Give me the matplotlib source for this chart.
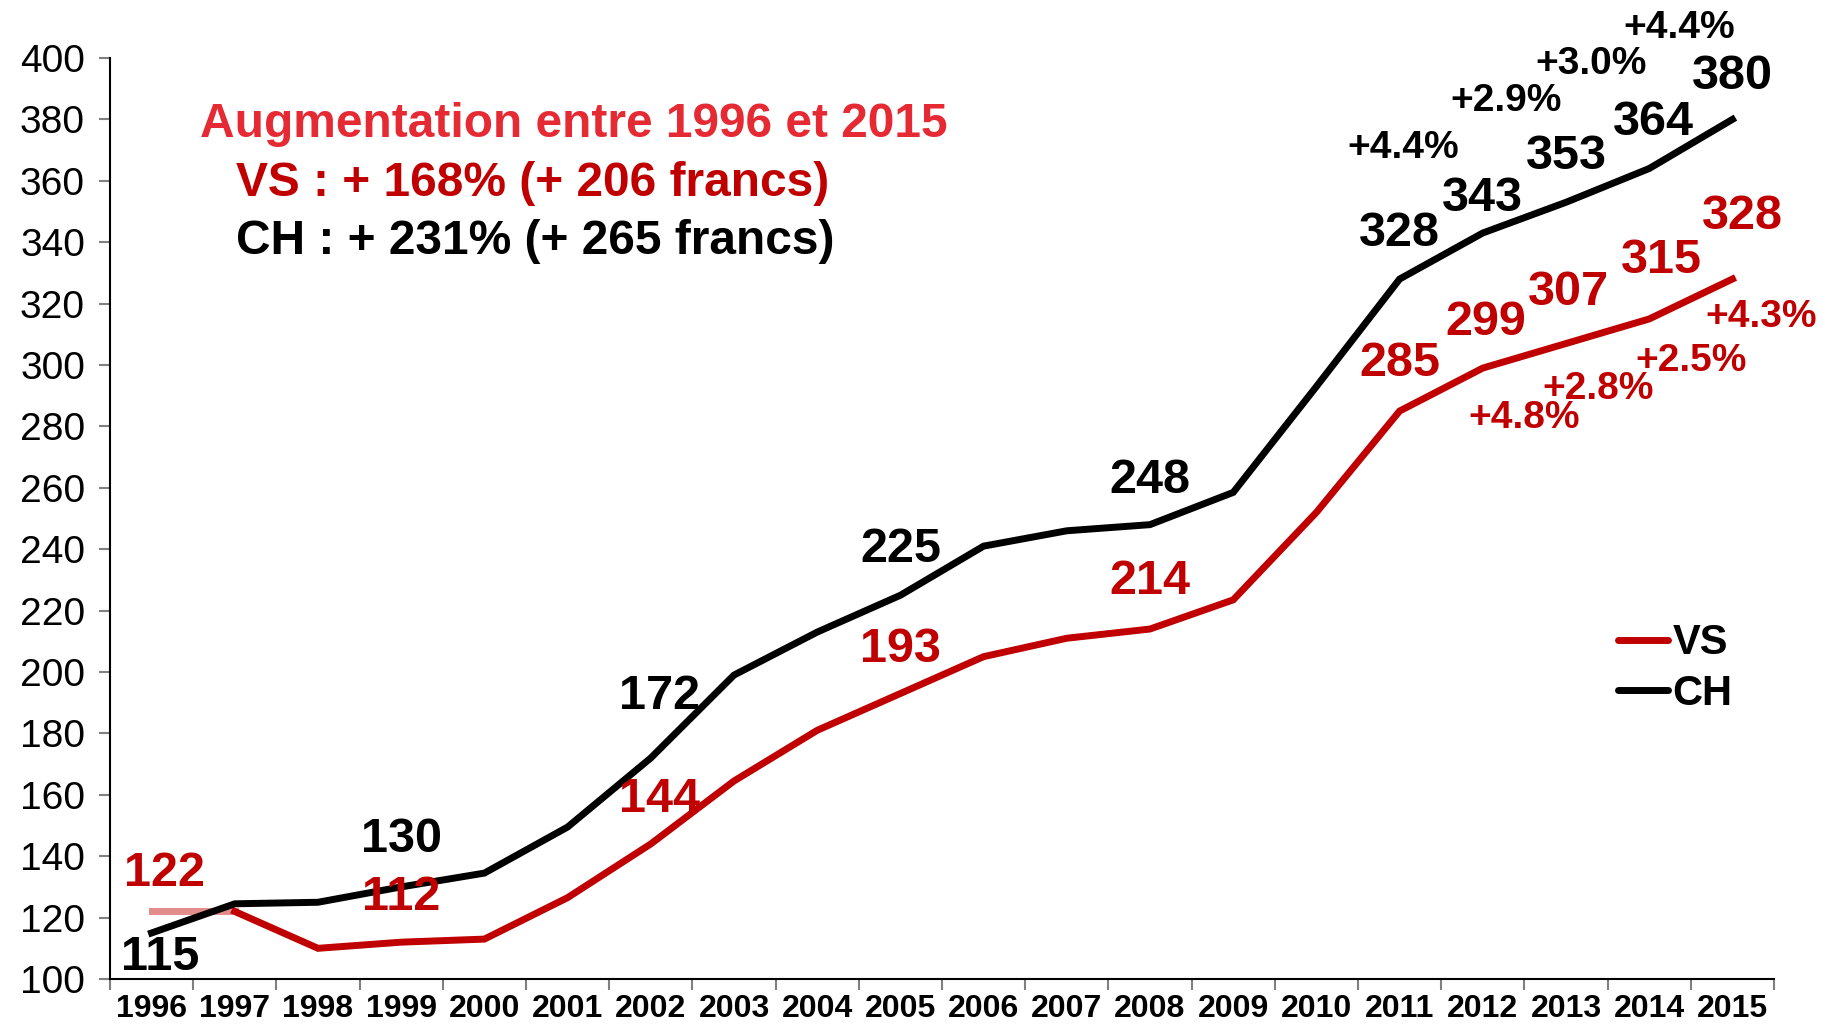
import matplotlib
matplotlib.use("Agg")
import matplotlib.pyplot as plt
from matplotlib.lines import Line2D

# data
years = [str(y) for y in range(1996, 2016)]
ch = [115, 124.5, 125, 130, 134.5, 149.5, 172, 199, 213, 225,
      241, 246, 248, 258.5, 293, 328, 343, 353, 364, 380]
vs = [122, 122, 110, 112, 113, 126.5, 144, 164.5, 181, 193,
      205, 211, 214, 223.5, 252, 285, 299, 307, 315, 328]

ch_labelled = [0, 3, 6, 9, 12, 15, 16, 17, 18, 19]
vs_labelled = [0, 3, 6, 9, 12, 15, 16, 17, 18, 19]
ch_pct = ["+4.4%", "+2.9%", "+3.0%", "+4.4%"]   # 2012..2015
vs_pct = ["+4.8%", "+2.8%", "+2.5%", "+4.3%"]
title_lines = ["Augmentation entre 1996 et 2015",
               "VS : + 168% (+ 206 francs)",
               "CH : + 231% (+ 265 francs)"]

RED = "#C00000"
LIGHT_RED = "#E52A33"
FONT = ["Liberation Sans", "DejaVu Sans"]

plt.rcParams["font.family"] = FONT

fig = plt.figure(figsize=(18.24, 10.30), dpi=100)
ax = fig.add_axes([0.0603, 0.0495, 0.9123, 0.8942])

x = list(range(len(years)))

# lines
ax.plot(x[1:], vs[1:], color=RED, lw=5, solid_joinstyle="miter", zorder=3)
ax.plot(x[:2], vs[:2], color=RED, lw=5, alpha=0.45, zorder=3)
ax.plot(x, ch, color="black", lw=5, solid_joinstyle="miter", zorder=4)

# value labels (offsets in points)
ch_off = [(6, -18), (0, 34), (6, 44), (0, 33), (0, 32), (0, 33), (0, 25), (0, 33), (3, 33), (0, 31)]
vs_off = [(9, 27), (0, 32), (6, 32), (0, 32), (0, 34), (0, 34), (2, 33), (2, 37), (9, 42), (7, 45)]
for i, off in zip(ch_labelled, ch_off):
    ax.annotate(f"{ch[i]:.0f}", (i, ch[i]), xytext=off, textcoords="offset points",
                ha="center", va="center", fontsize=35, fontweight="bold", color="black", zorder=5)
for i, off in zip(vs_labelled, vs_off):
    ax.annotate(f"{vs[i]:.0f}", (i, vs[i]), xytext=off, textcoords="offset points",
                ha="center", va="center", fontsize=35, fontweight="bold", color=RED, zorder=5)

# growth labels
ch_pct_off = [(-57, 61), (-43, 73), (-42, 75), (-38, 66)]
vs_pct_off = [(30, -36), (23, -33), (30, -30), (21, -27)]
for k, (txt, off) in enumerate(zip(ch_pct, ch_pct_off)):
    i = 16 + k
    ax.annotate(txt, (i, ch[i]), xytext=off, textcoords="offset points",
                ha="center", va="center", fontsize=28, fontweight="bold", color="black")
for k, (txt, off) in enumerate(zip(vs_pct, vs_pct_off)):
    i = 16 + k
    ax.annotate(txt, (i, vs[i]), xytext=off, textcoords="offset points",
                ha="center", va="center", fontsize=28, fontweight="bold", color=RED)

# title block
ax.text(0.054, 0.928, title_lines[0], transform=ax.transAxes, fontsize=34.5,
        fontweight="bold", color=LIGHT_RED, va="center")
ax.text(0.0757, 0.864, title_lines[1], transform=ax.transAxes, fontsize=34.5,
        fontweight="bold", color=RED, va="center")
ax.text(0.0757, 0.801, title_lines[2], transform=ax.transAxes, fontsize=34.5,
        fontweight="bold", color="black", va="center")

# axes
ax.set_xlim(-0.5, len(years) - 0.5)
ax.set_ylim(100, 400)
ax.set_yticks(range(100, 401, 20))
ax.tick_params(axis="y", labelsize=28, length=8, color="#808080", width=1.5, pad=10)
ax.set_xticks([i - 0.5 for i in range(len(years) + 1)])
ax.set_xticklabels([])
ax.set_xticks(x, minor=True)
ax.set_xticklabels(years, minor=True, fontsize=23, fontweight="bold")
ax.tick_params(axis="x", which="major", length=8, color="#808080", width=1.5)
ax.tick_params(axis="x", which="minor", length=0, pad=11)
for s in ["top", "right"]:
    ax.spines[s].set_visible(False)
for s in ["left", "bottom"]:
    ax.spines[s].set_linewidth(1.5)

handles = [Line2D([], [], color=RED, lw=5, solid_capstyle="round"),
           Line2D([], [], color="black", lw=5, solid_capstyle="round")]
ax.legend(handles, ["VS", "CH"], loc="upper left", bbox_to_anchor=(0.894, 0.409),
          frameon=False, prop={"size": 30, "weight": "bold"},
          handlelength=1.2, handletextpad=0.1, borderpad=0, labelspacing=0.25)

fig.savefig("out.png", dpi=100)
